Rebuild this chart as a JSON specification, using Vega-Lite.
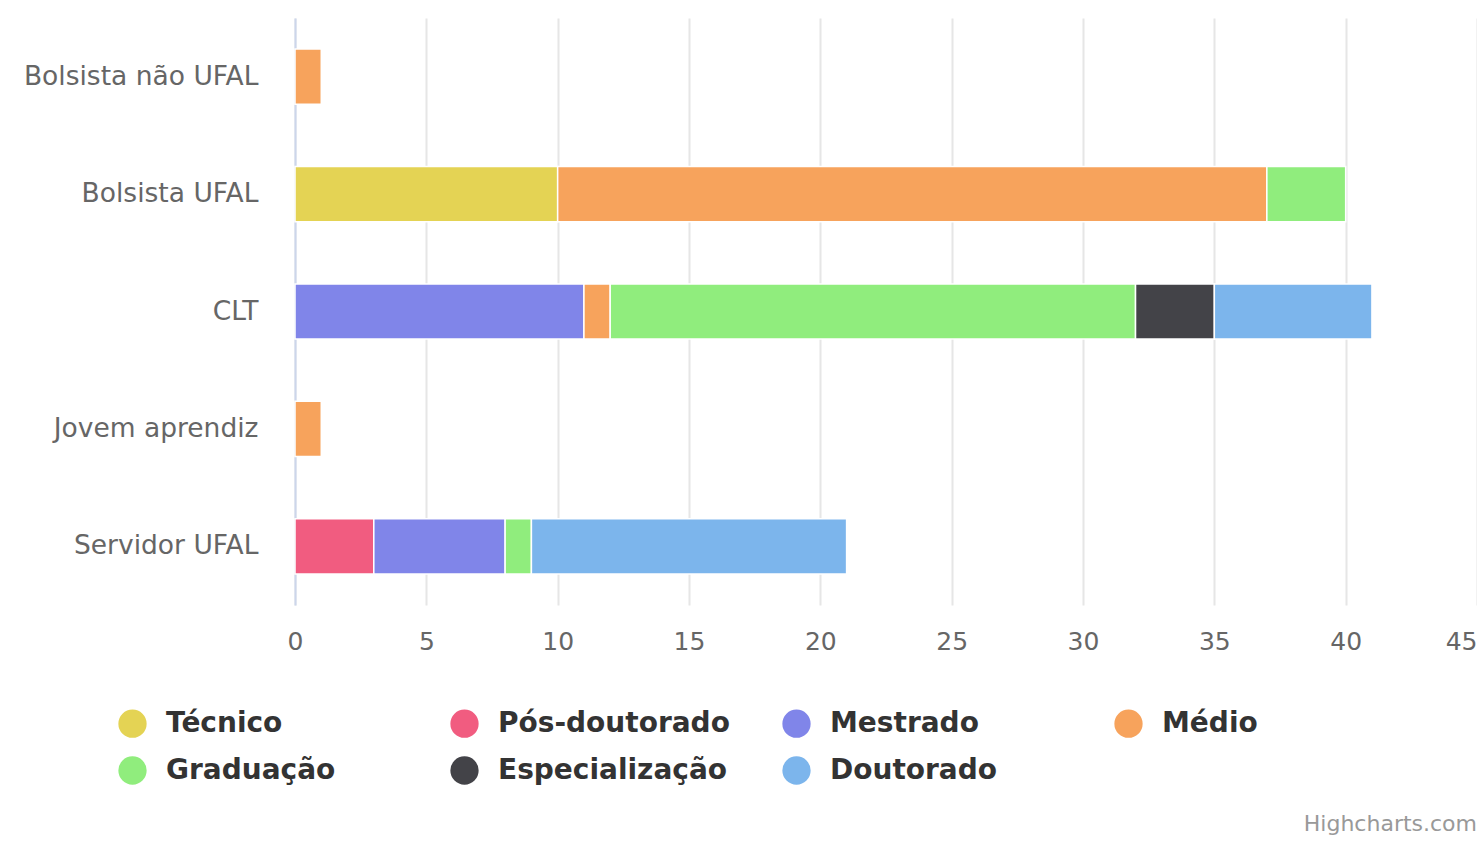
{
  "$schema": "https://vega.github.io/schema/vega-lite/v6.json",
  "width": 1182,
  "height": 587,
  "autosize": "none",
  "padding": {"left": 295, "top": 18, "right": 0, "bottom": 236},
  "background": "white",
  "config": {"view": {"stroke": null}, "font": "DejaVu Sans"},
  "title": {
    "text": "Highcharts.com",
    "orient": "bottom",
    "anchor": "end",
    "frame": "group",
    "fontSize": 22,
    "fontWeight": "normal",
    "color": "#999999",
    "offset": 29
  },
  "data": {
    "values": [
      {"vinculo": "Bolsista não UFAL", "escolaridade": "Médio", "ordem": 4, "n": 1},
      {"vinculo": "Bolsista UFAL", "escolaridade": "Técnico", "ordem": 1, "n": 10},
      {"vinculo": "Bolsista UFAL", "escolaridade": "Médio", "ordem": 4, "n": 27},
      {"vinculo": "Bolsista UFAL", "escolaridade": "Graduação", "ordem": 5, "n": 3},
      {"vinculo": "CLT", "escolaridade": "Mestrado", "ordem": 3, "n": 11},
      {"vinculo": "CLT", "escolaridade": "Médio", "ordem": 4, "n": 1},
      {"vinculo": "CLT", "escolaridade": "Graduação", "ordem": 5, "n": 20},
      {"vinculo": "CLT", "escolaridade": "Especialização", "ordem": 6, "n": 3},
      {"vinculo": "CLT", "escolaridade": "Doutorado", "ordem": 7, "n": 6},
      {"vinculo": "Jovem aprendiz", "escolaridade": "Médio", "ordem": 4, "n": 1},
      {"vinculo": "Servidor UFAL", "escolaridade": "Pós-doutorado", "ordem": 2, "n": 3},
      {"vinculo": "Servidor UFAL", "escolaridade": "Mestrado", "ordem": 3, "n": 5},
      {"vinculo": "Servidor UFAL", "escolaridade": "Graduação", "ordem": 5, "n": 1},
      {"vinculo": "Servidor UFAL", "escolaridade": "Doutorado", "ordem": 7, "n": 12}
    ]
  },
  "mark": {"type": "bar", "stroke": "white", "strokeWidth": 1.5},
  "encoding": {
    "y": {
      "field": "vinculo",
      "type": "nominal",
      "sort": ["Bolsista não UFAL", "Bolsista UFAL", "CLT", "Jovem aprendiz", "Servidor UFAL"],
      "scale": {"paddingInner": 0.53, "paddingOuter": 0.265},
      "axis": {
        "title": null,
        "ticks": false,
        "labelPadding": 37,
        "labelFontSize": 26.5,
        "labelLimit": 400,
        "labelColor": "#666666",
        "domainColor": "#ccd6eb",
        "domainWidth": 2,
        "grid": false
      }
    },
    "x": {
      "field": "n",
      "type": "quantitative",
      "stack": "zero",
      "scale": {"domain": [0, 45], "nice": false},
      "axis": {
        "title": null,
        "values": [0, 5, 10, 15, 20, 25, 30, 35, 40, 45],
        "domain": false,
        "ticks": false,
        "grid": true,
        "gridColor": "#e6e6e6",
        "gridWidth": 2,
        "labelPadding": 24,
        "labelFontSize": 25,
        "labelColor": "#666666",
        "labelFlush": false,
        "labelAlign": {"condition": {"test": "datum.value == 45", "value": "right"}, "value": "center"}
      }
    },
    "order": {"field": "ordem", "type": "quantitative", "sort": "ascending"},
    "color": {
      "field": "escolaridade",
      "type": "nominal",
      "scale": {
        "domain": ["Técnico", "Pós-doutorado", "Mestrado", "Médio", "Graduação", "Especialização", "Doutorado"],
        "range": ["#e4d354", "#f15c80", "#8085e9", "#f7a35c", "#90ed7d", "#434348", "#7cb5ec"]
      },
      "legend": {
        "title": null,
        "orient": "none",
        "legendX": -177,
        "legendY": 691,
        "direction": "horizontal",
        "columns": 4,
        "gridAlign": "all",
        "columnPadding": 52,
        "rowPadding": 18,
        "symbolType": "circle",
        "symbolSize": 800,
        "symbolStrokeWidth": 0,
        "symbolOpacity": 1,
        "labelFontSize": 28,
        "labelFontWeight": "bold",
        "labelColor": "#333333",
        "labelOffset": 19,
        "labelLimit": 400
      }
    }
  }
}
